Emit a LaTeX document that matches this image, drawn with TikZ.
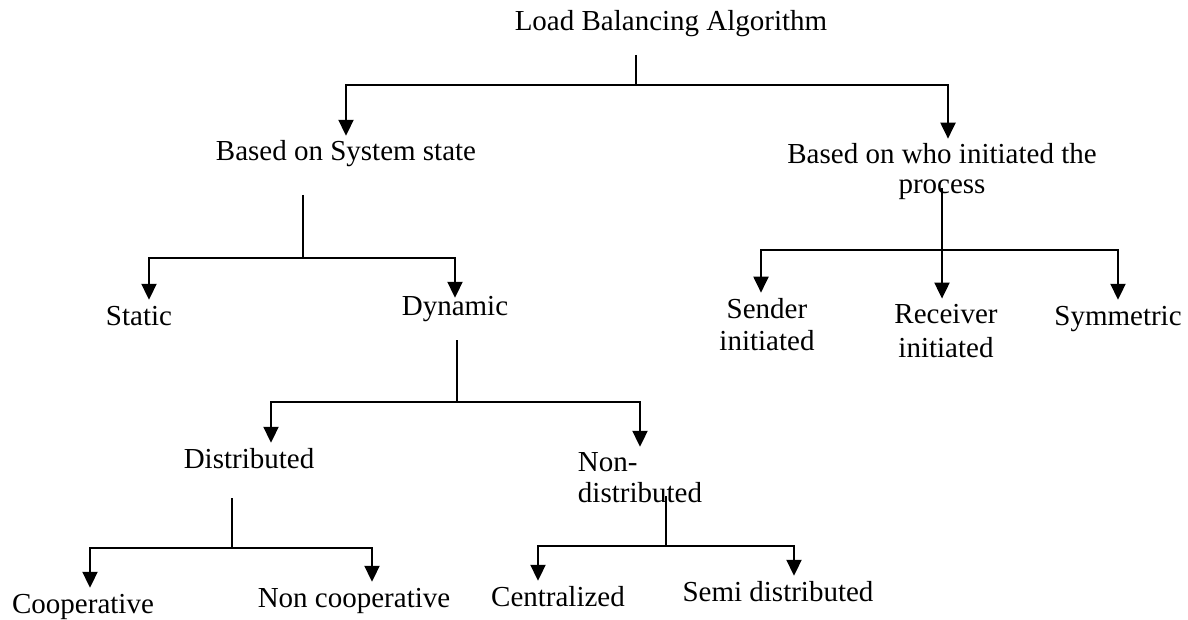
\documentclass[tikz,border=0pt]{standalone}
\usepackage{fontspec}
\setmainfont{Liberation Serif}
\usetikzlibrary{arrows.meta}

\tikzset{
  lbl/.style={anchor=base, inner xsep=0pt, inner ysep=5pt, text height=20pt, text depth=6pt,
    font=\fontsize{29}{32}\selectfont},
  lbltwo/.style={anchor=base, inner xsep=0pt, inner ysep=5pt, align=center,
    font=\fontsize{29}{32}\selectfont},
  link/.style={line width=2pt},
  arr/.style={link, -{Triangle[width=15pt,length=16pt]}},
}

\begin{document}
\begin{tikzpicture}[x=1pt,y=-1pt]
\useasboundingbox (0,0) rectangle (1188,620);
% labels (two-line ones sit on the baseline of their last line)
\node[lbl] (root) at (671,31) {Load Balancing Algorithm};
\node[lbl] (sys) at (346,161) {Based on System state};
\node[lbltwo, font=\fontsize{29}{30}\selectfont] (who) at (942,194) {Based on who initiated the\\process};
\node[lbl] (sta) at (139,325) {Static};
\node[lbl] (dyn) at (455,315) {Dynamic};
\node[lbl] (dis) at (249,468) {Distributed};
\node[lbltwo, align=left, font=\fontsize{29}{31}\selectfont] (nod) at (640,502) {Non-\\distributed};
\node[lbltwo] (snd) at (767,350) {Sender\\initiated};
\node[lbltwo, font=\fontsize{29}{34}\selectfont] (rcv) at (946,357) {Receiver\\initiated};
\node[lbl] (sym) at (1118,325) {Symmetric};
\node[lbl] (coo) at (83,613) {Cooperative};
\node[lbl] (nco) at (354,607) {Non cooperative};
\node[lbl] (cen) at (558,606) {Centralized};
\node[lbl] (sem) at (778,601) {Semi distributed};
% stems and junctions
\coordinate (s1) at (636,55);  \coordinate (j1) at (636,85);
\coordinate (s2) at (303,195); \coordinate (j2) at (303,258);
\coordinate (s3) at (457,340); \coordinate (j3) at (457,402);
\coordinate (s4) at (232,498); \coordinate (j4) at (232,548);
\coordinate (s5) at (666,496); \coordinate (j5) at (666,546);
\coordinate (s6) at (942,188); \coordinate (j6) at (942,250);
% tree
\draw[link] (s1) -- (j1);
\draw[arr] (j1) -| (sys.north);
\draw[arr] (j1) -| ([xshift=6]who.north);
\draw[link] (s2) -- (j2);
\draw[arr] (j2) -| ([xshift=10]sta.north);
\draw[arr] (j2) -| ([yshift=-8]dyn.north);
\draw[link] (s3) -- (j3);
\draw[arr] (j3) -| ([xshift=22]dis.north);
\draw[arr] (j3) -| (nod.north);
\draw[link] (s4) -- (j4);
\draw[arr] (j4) -| ([xshift=7]coo.north);
\draw[arr] (j4) -| ([xshift=18]nco.north);
\draw[link] (s5) -- (j5);
\draw[arr] (j5) -| ([xshift=-20]cen.north);
\draw[arr] (j5) -| ([xshift=16]sem.north);
\draw[arr] (s6) -- (rcv.north -| s6);
\draw[arr] (j6) -| ([xshift=-6]snd.north);
\draw[arr] (j6) -| (sym.north);
\end{tikzpicture}
\end{document}
